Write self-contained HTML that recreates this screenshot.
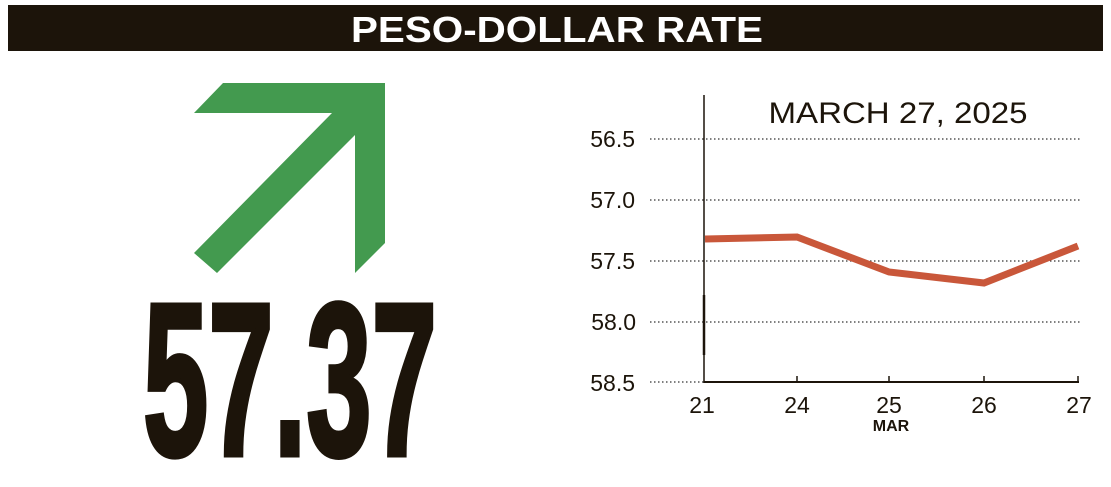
<!DOCTYPE html>
<html><head><meta charset="utf-8"><style>
html,body{margin:0;padding:0;background:#fff;}
svg{display:block;}
</style></head><body>
<svg width="1111" height="487" viewBox="0 0 1111 487" xmlns="http://www.w3.org/2000/svg" font-family="Liberation Sans, sans-serif">
<rect x="8" y="5" width="1095" height="46" fill="#1c140a"/>
<text x="557" y="42" text-anchor="middle" fill="#fff" font-weight="bold" font-size="36" textLength="412" lengthAdjust="spacingAndGlyphs">PESO-DOLLAR RATE</text>
<polygon points="223,83 385,83 385,243 355,273 355,135 217,273 194,253 332,113 194,113" fill="#439a4f"/>
<text x="143" y="455" font-weight="bold" font-size="218" fill="#1c140a" stroke="#1c140a" stroke-width="5" textLength="294" lengthAdjust="spacingAndGlyphs">57.37</text>
<g stroke="#333" stroke-width="1.2" stroke-dasharray="1.5,2.5">
<line x1="650" y1="139" x2="1080" y2="139"/>
<line x1="650" y1="200" x2="1080" y2="200"/>
<line x1="650" y1="261" x2="1080" y2="261"/>
<line x1="650" y1="322" x2="1080" y2="322"/>
<line x1="650" y1="382" x2="705" y2="382"/>
</g>
<line x1="704" y1="95" x2="704" y2="383" stroke="#1c140a" stroke-width="1.5"/>
<line x1="704" y1="295" x2="704" y2="355" stroke="#1c140a" stroke-width="2.5"/>
<line x1="704" y1="382" x2="1079" y2="382" stroke="#1c140a" stroke-width="2"/>
<g stroke="#1c140a" stroke-width="1.5">
<line x1="797" y1="376" x2="797" y2="382"/><line x1="889" y1="376" x2="889" y2="382"/>
<line x1="984" y1="376" x2="984" y2="382"/><line x1="1078" y1="376" x2="1078" y2="382"/>
</g>
<polyline points="705,239 797,237 889,272 984,283 1078,246" fill="none" stroke="#c9573a" stroke-width="7"/>
<text x="898" y="123" text-anchor="middle" font-size="30" fill="#1c140a" textLength="259" lengthAdjust="spacingAndGlyphs">MARCH 27, 2025</text>
<g font-size="23" fill="#1c140a" text-anchor="end">
<text x="635" y="147">56.5</text><text x="635" y="208">57.0</text>
<text x="635" y="269">57.5</text><text x="636" y="330">58.0</text>
<text x="635" y="391">58.5</text>
</g>
<g font-size="23" fill="#1c140a" text-anchor="middle">
<text x="702" y="413">21</text><text x="797" y="413">24</text>
<text x="889" y="413">25</text><text x="984" y="413">26</text>
<text x="1079" y="413">27</text>
</g>
<text x="891" y="431" text-anchor="middle" font-size="16" font-weight="bold" fill="#1c140a">MAR</text>
</svg>
</body></html>
